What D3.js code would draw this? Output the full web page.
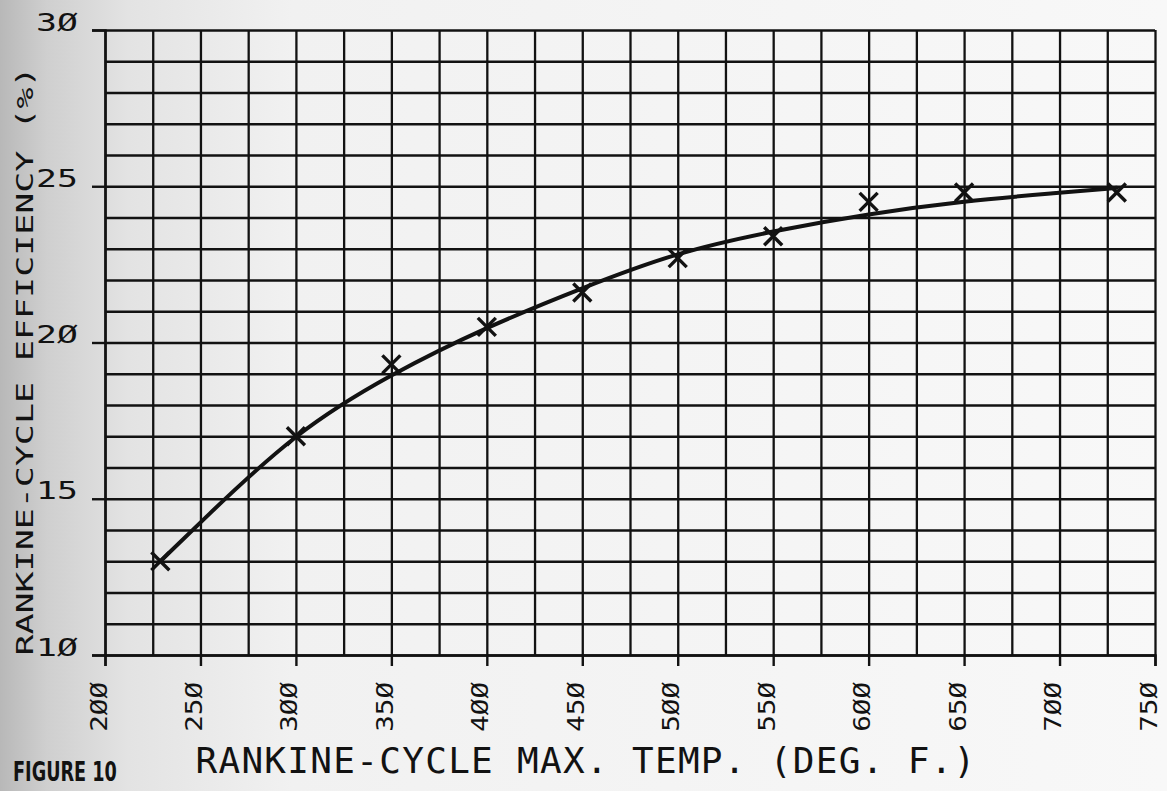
<!DOCTYPE html>
<html>
<head>
<meta charset="utf-8">
<script src="https://cdn.jsdelivr.net/npm/d3@7"></script>
<style>
  body { margin: 0; background: #f8f8f8; }
  svg { display: block; }
</style>
</head>
<body>
<div id="chart"></div>
<script>
(function () {

  // measured points (x marks)
  var tempF = [229, 300, 350, 400, 450, 500, 550, 600, 650, 730];
  var efficiency = [13.0, 17.0, 19.3, 20.5, 21.6, 22.7, 23.4, 24.5, 24.8, 24.8];

  // hand-faired curve through the points
  var fitTemp = [229, 250, 300, 350, 400, 450, 500, 550, 600, 650, 700, 730];
  var fitEff = [13.0, 14.25, 17.15, 19.0, 20.5, 21.75, 22.9, 23.57, 24.12, 24.53, 24.79, 24.95];

  var xLabelTicks = [200, 250, 300, 350, 400, 450, 500, 550, 600, 650, 700, 750];
  var yLabelTicks = [10, 15, 20, 25, 30];

  var w = 1167;
  var h = 791;

  var margin = {
    top: 30,
    bottom: 136,
    left: 105,
    right: 12
  };

  var width = w - margin.left - margin.right;
  var height = h - margin.top - margin.bottom;

  var ink = "#121212";

  var x = d3.scaleLinear()
    .domain([200, 750])
    .range([0, width]);

  var y = d3.scaleLinear()
    .domain([10, 30])
    .range([height, 0]);

  var svg = d3.select("#chart")
    .append("svg")
    .attr("width", w)
    .attr("height", h);

  // paper shading from the scan (binding shadow on the left)
  var grad = svg.append("defs")
    .append("linearGradient")
    .attr("id", "paper")
    .attr("x1", 0).attr("y1", 0)
    .attr("x2", 1).attr("y2", 0);
  grad.append("stop").attr("offset", "0%").attr("stop-color", "#b8b8b8");
  grad.append("stop").attr("offset", "4%").attr("stop-color", "#cfcfcf");
  grad.append("stop").attr("offset", "11%").attr("stop-color", "#e3e3e3");
  grad.append("stop").attr("offset", "25%").attr("stop-color", "#f1f1f1");
  grad.append("stop").attr("offset", "100%").attr("stop-color", "#f8f8f8");

  svg.append("rect")
    .attr("width", w)
    .attr("height", h)
    .attr("fill", "url(#paper)");

  var g = svg.append("g")
    .attr("transform", "translate(" + margin.left + "," + margin.top + ")");

  function zeroSlash(v) {
    return String(v).replace(/0/g, "\u00D8");
  }

  // grid
  g.append("g")
    .attr("class", "grid")
    .attr("transform", "translate(0," + height + ")")
    .call(d3.axisBottom(x)
      .tickValues(d3.range(200, 751, 25))
      .tickSize(-height)
      .tickFormat(""));

  g.append("g")
    .attr("class", "grid")
    .call(d3.axisLeft(y)
      .tickValues(d3.range(10, 31, 1))
      .tickSize(-width)
      .tickFormat(""));

  g.selectAll(".grid .domain").remove();
  g.selectAll(".grid line")
    .style("stroke", ink)
    .style("stroke-width", 2.3);

  // labelled axes
  var xAxis = g.append("g")
    .attr("class", "axis")
    .attr("transform", "translate(0," + height + ")")
    .call(d3.axisBottom(x)
      .tickValues(xLabelTicks)
      .tickSize(11)
      .tickFormat(zeroSlash));

  xAxis.selectAll("text")
    .attr("x", 0)
    .attr("y", 0)
    .attr("dy", "0.35em")
    .attr("transform", "translate(-7,27) rotate(-90) scale(1.2,1)")
    .style("text-anchor", "end")
    .style("font-size", "23px");

  var yAxis = g.append("g")
    .attr("class", "axis")
    .call(d3.axisLeft(y)
      .tickValues(yLabelTicks)
      .tickSize(13)
      .tickFormat(zeroSlash));

  yAxis.selectAll("text")
    .attr("x", 0)
    .attr("y", 0)
    .attr("dy", 0)
    .attr("transform", "translate(-27,0) scale(1.45,1)")
    .style("text-anchor", "end")
    .style("font-size", "24px");

  g.selectAll(".axis path.domain")
    .style("stroke", ink)
    .style("stroke-width", 2.4);
  g.selectAll(".axis line")
    .style("stroke", ink)
    .style("stroke-width", 2.4);
  g.selectAll(".axis text")
    .style("font-family", "'DejaVu Sans Mono', monospace")
    .style("fill", ink);

  // faired curve
  var line = d3.line()
    .x(function (d, i) { return x(fitTemp[i]); })
    .y(function (d) { return y(d); })
    .curve(d3.curveBasis);

  g.append("path")
    .datum(fitEff)
    .attr("d", line)
    .style("fill", "none")
    .style("stroke", ink)
    .style("stroke-width", 4)
    .style("stroke-linecap", "round");

  // x marks
  g.selectAll(".mark")
    .data(efficiency)
    .enter()
    .append("path")
    .attr("class", "mark")
    .attr("d", d3.symbol().type(d3.symbolTimes).size(213))
    .attr("transform", function (d, i) {
      return "translate(" + x(tempF[i]) + "," + y(d) + ")";
    })
    .style("fill", "none")
    .style("stroke", ink)
    .style("stroke-width", 3.4);

  // axis titles
  svg.append("text")
    .attr("x", 586)
    .attr("y", 773)
    .style("text-anchor", "middle")
    .style("font-family", "'DejaVu Sans Mono', monospace")
    .style("font-size", "36px")
    .style("letter-spacing", "1.3px")
    .style("fill", ink)
    .text("RANKINE-CYCLE MAX. TEMP. (DEG. F.)");

  svg.append("text")
    .attr("transform", "translate(33,361) rotate(-90) scale(1.52,1)")
    .style("text-anchor", "middle")
    .style("font-family", "'DejaVu Sans Mono', monospace")
    .style("font-size", "23px")
    .style("fill", ink)
    .text("RANKINE-CYCLE EFFICIENCY (%)");

  svg.append("text")
    .attr("transform", "translate(13,781) scale(0.68,1)")
    .style("font-family", "'DejaVu Sans', sans-serif")
    .style("font-weight", "bold")
    .style("font-size", "26px")
    .style("fill", ink)
    .text("FIGURE 10");

})()
</script>
</body>
</html>
